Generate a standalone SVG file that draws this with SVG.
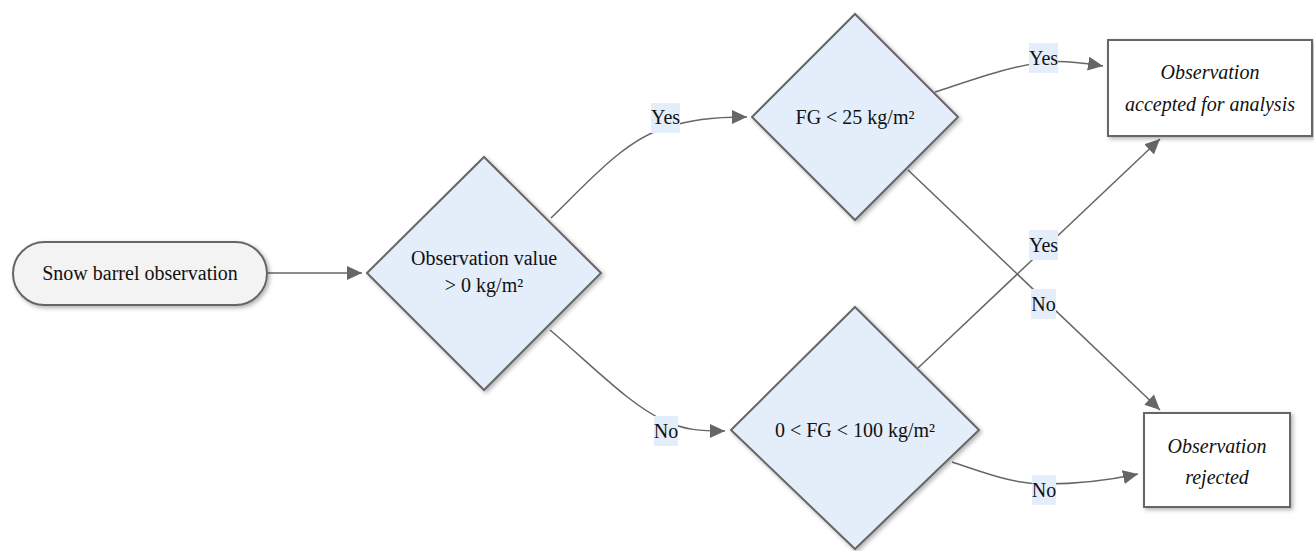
<svg xmlns="http://www.w3.org/2000/svg" width="1314" height="551" viewBox="0 0 1314 551">
<style>
.node{stroke:#666;stroke-width:2}
.start{fill:#f3f3f3}
.dec{fill:#e4eefa}
.box{fill:#fff}
.t{font-family:'Liberation Serif','DejaVu Serif',serif;font-size:20px;fill:#111;text-anchor:middle}
.it{font-style:italic}
.edge{fill:none;stroke:#666;stroke-width:1.5}
.lbg{fill:#e4eefa}
</style>
<defs>
<filter id="sh" x="-20%" y="-20%" width="140%" height="140%">
<feDropShadow dx="2" dy="2" stdDeviation="2" flood-color="#000" flood-opacity="0.3"/>
</filter>
<marker id="ah" markerUnits="userSpaceOnUse" markerWidth="16" markerHeight="16" viewBox="0 0 16 16" refX="15" refY="8" orient="auto">
<path d="M0,1 L15,8 L0,15 Z" fill="#666"/>
</marker>
</defs>
<g id="connectors">
<path class="edge" d="M267,273 L362,273" marker-end="url(#ah)"/>
<path class="edge" d="M551,218 C590,180 625,140 665,128 C690,120 710,117 747,117" marker-end="url(#ah)"/>
<path class="edge" d="M550,330 C595,368 630,405 665,421 C685,430 700,431 725,431" marker-end="url(#ah)"/>
<path class="edge" d="M935,92 C975,79 1010,66 1045,62 C1065,60 1085,63 1103,66" marker-end="url(#ah)"/>
<path class="edge" d="M908,170 L1160,410" marker-end="url(#ah)"/>
<path class="edge" d="M918,368 L1160,139" marker-end="url(#ah)"/>
<path class="edge" d="M952,462 C990,475 1015,484 1045,484 C1080,484 1110,480 1138,474" marker-end="url(#ah)"/>
<g id="edge-labels">
<rect class="lbg" x="651" y="103" width="29" height="30"/>
<text class="t" x="665.5" y="124">Yes</text>
<rect class="lbg" x="654" y="416" width="24" height="30"/>
<text class="t" x="666" y="438">No</text>
<rect class="lbg" x="1029" y="43" width="29" height="30"/>
<text class="t" x="1043.5" y="65">Yes</text>
<rect class="lbg" x="1031" y="289" width="25" height="30"/>
<text class="t" x="1043.5" y="311">No</text>
<rect class="lbg" x="1029" y="230" width="29" height="30"/>
<text class="t" x="1043.5" y="252">Yes</text>
<rect class="lbg" x="1032" y="475" width="24" height="30"/>
<text class="t" x="1044" y="497">No</text>
</g>
</g>
<g id="start">
<rect class="node start" filter="url(#sh)" x="13" y="242" width="254" height="63" rx="31.5"/>
<text class="t" x="140" y="280">Snow barrel observation</text>
</g>
<g id="decision1">
<polygon class="node dec" filter="url(#sh)" points="484,157 601,273 484,390 367,273"/>
<text class="t" x="484" y="265">Observation value</text>
<text class="t" x="484" y="292">&gt; 0 kg/m²</text>
</g>
<g id="decision2">
<polygon class="node dec" filter="url(#sh)" points="855,14 958,117 855,220 752,117"/>
<text class="t" x="855" y="124">FG &lt; 25 kg/m²</text>
</g>
<g id="decision3">
<polygon class="node dec" filter="url(#sh)" points="855,307 979,430 855,549 731,430"/>
<text class="t" x="855" y="437">0 &lt; FG &lt; 100 kg/m²</text>
</g>
<g id="accepted">
<rect class="node box" filter="url(#sh)" x="1108" y="40" width="204" height="96"/>
<text class="t it" x="1210" y="79">Observation</text>
<text class="t it" x="1210" y="111">accepted for analysis</text>
</g>
<g id="rejected">
<rect class="node box" filter="url(#sh)" x="1144" y="413" width="146" height="94"/>
<text class="t it" x="1217" y="453">Observation</text>
<text class="t it" x="1217" y="484">rejected</text>
</g>
</svg>
